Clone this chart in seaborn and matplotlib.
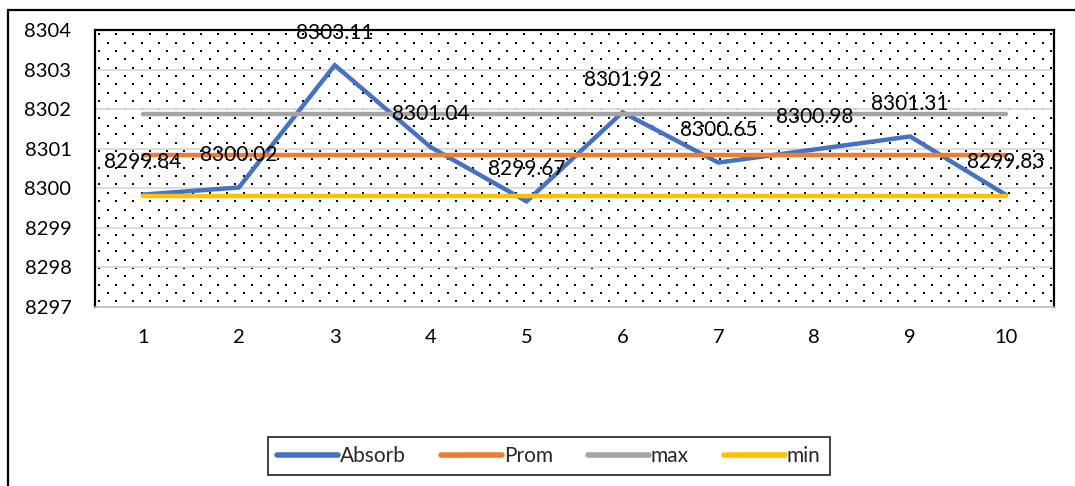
import numpy as np
import pandas as pd
import matplotlib
matplotlib.use("Agg")
import matplotlib.pyplot as plt
from matplotlib.lines import Line2D
import seaborn as sns

# Measurement series
samples = [1, 2, 3, 4, 5, 6, 7, 8, 9, 10]
absorb = [8299.84, 8300.02, 8303.11, 8301.04, 8299.67, 8301.92, 8300.65, 8300.98, 8301.31, 8299.83]
prom = [8300.84, 8300.84, 8300.84, 8300.84, 8300.84, 8300.84, 8300.84, 8300.84, 8300.84, 8300.84]
max_line = [8301.87, 8301.87, 8301.87, 8301.87, 8301.87, 8301.87, 8301.87, 8301.87, 8301.87, 8301.87]
min_line = [8299.80, 8299.80, 8299.80, 8299.80, 8299.80, 8299.80, 8299.80, 8299.80, 8299.80, 8299.80]
series_names = ["Absorb", "Prom", "max", "min"]
y_ticks = [8297, 8298, 8299, 8300, 8301, 8302, 8303, 8304]

colors = ["#4472C4", "#ED7D31", "#A5A5A5", "#FFC000"]

sns.set_theme(style="white")
plt.rcParams["font.family"] = ["Lato", "DejaVu Sans"]

df = pd.DataFrame({
    "sample": samples * 4,
    "value": absorb + prom + max_line + min_line,
    "series": sum([[n] * len(samples) for n in series_names], []),
})

fig = plt.figure(figsize=(10.75, 4.86), dpi=100)
ax = fig.add_axes([95 / 1075, 1 - 307 / 486, (1054 - 95) / 1075, (307 - 30) / 486])

# dotted background pattern of the plot area (staggered rows)
W, H = 1054 - 95, 307 - 30
dx, dy = 17.0, 8.35
pts_x, pts_y = [], []
for i, yy in enumerate(np.arange(dy / 2, H, dy)):
    off = 0 if i % 2 == 0 else dx / 2
    xs = np.arange(4 + off, W, dx)
    pts_x.extend(xs / W)
    pts_y.extend([1 - yy / H] * len(xs))
ax.scatter(pts_x, pts_y, s=1.0, marker="s", color="black", linewidths=0,
           transform=ax.transAxes, zorder=0.5)

sns.lineplot(data=df, x="sample", y="value", hue="series", hue_order=series_names,
             palette=colors, linewidth=3.2, ax=ax, legend=True, zorder=3)
for ln in ax.get_lines():
    ln.set_solid_capstyle("round")
    ln.set_solid_joinstyle("miter")

for x, v in zip(samples, absorb):
    ax.annotate(f"{v:.2f}", (x, v), xytext=(0, 23.5), textcoords="offset points",
                ha="center", va="center", fontsize=15, color="black", zorder=5)

ax.set_xlim(0.5, 10.5)
ax.set_ylim(8297, 8304)
ax.set_yticks(y_ticks)
ax.set_yticklabels([str(t) for t in y_ticks])
ax.set_xticks(samples)
ax.set_xticklabels([str(s) for s in samples])
ax.set_xlabel("")
ax.set_ylabel("")
ax.tick_params(axis="both", length=0, labelsize=14.5, colors="black")
ax.tick_params(axis="y", pad=17)
ax.tick_params(axis="x", pad=16)
ax.grid(axis="y", color="#D9D9D9", linewidth=1.3, zorder=1)
ax.set_axisbelow(True)

for side in ["left", "top", "right"]:
    ax.spines[side].set_color("black")
    ax.spines[side].set_linewidth(1.6)
    ax.spines[side].set_visible(True)
ax.spines["bottom"].set_color("#BFBFBF")
ax.spines["bottom"].set_linewidth(1.2)
ax.spines["bottom"].set_visible(True)

handles, labels = ax.get_legend_handles_labels()
ax.get_legend().remove()
leg = fig.legend(handles, labels, loc="center", bbox_to_anchor=(549 / 1075, 1 - 456 / 486),
                 ncol=4, frameon=True, fontsize=15, handlelength=2.9, handletextpad=0.1,
                 columnspacing=1.7, borderpad=0.45, fancybox=False, borderaxespad=0)
leg.get_frame().set_edgecolor("black")
leg.get_frame().set_linewidth(1.3)
for h in leg.get_lines():
    h.set_linewidth(4)
    h.set_solid_capstyle("round")

# outer chart border (left and top edges)
fig.add_artist(Line2D([8 / 1075, 8 / 1075], [0, 1 - 10 / 486], transform=fig.transFigure,
                      color="black", linewidth=1.6))
fig.add_artist(Line2D([8 / 1075, 1], [1 - 10 / 486, 1 - 10 / 486], transform=fig.transFigure,
                      color="black", linewidth=1.6))

fig.savefig("out.png", dpi=100)
